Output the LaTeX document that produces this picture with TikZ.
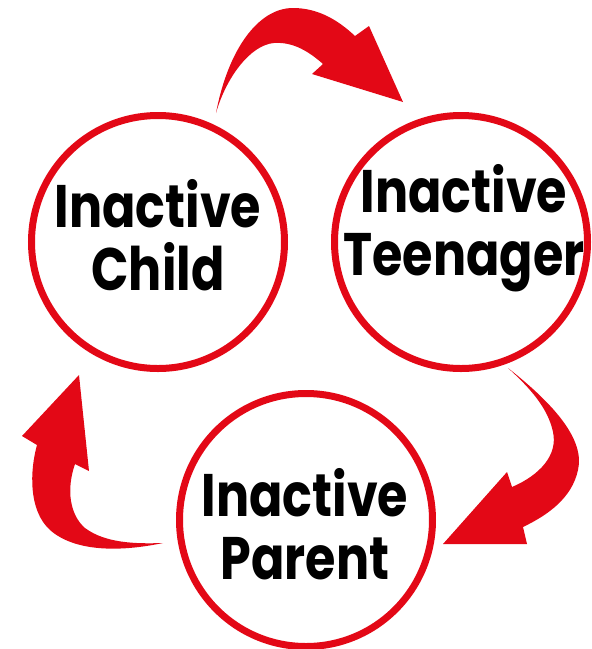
\documentclass[tikz,border=0pt]{standalone}
\usepackage{fontspec}
\newfontfamily\stagefont{Poppins}[FakeStretch=0.82]
\definecolor{cyclered}{RGB}{227,8,22}
\tikzset{
  ring/.style={circle, draw=cyclered, line width=7pt, minimum size=253pt, inner sep=0pt},
  stagetext/.style={align=center, inner sep=0pt, text=black,
    font=\stagefont\bfseries\fontsize{60}{63}\selectfont},
  bendarrow/.style={fill=cyclered, draw=none}
}
\begin{document}
\begin{tikzpicture}[x=1pt,y=-1pt]
    \useasboundingbox (0,0) rectangle (592,649);

    \node[ring] (child) at (158,242) {};
    \node[ring] (teen) at (461,242) {};
    \node[ring] (parent) at (306,520) {};
    \node[stagetext] (childtext) at (158,235) {Inactive\\Child};
    \node[stagetext] (teentext) at (464,228) {Inactive\\Teenager};
    \node[stagetext] (parenttext) at (305,524) {Inactive\\Parent};

    \fill[bendarrow] (216,113) .. controls (228,50) and (258,8) .. (293,8)
        .. controls (318,8) and (338,20) .. (355,36) -- (369,26) -- (403,102)
        -- (312,74) -- (323,64) .. controls (305,48) and (290,42) .. (274,43)
        .. controls (250,45) and (226,78) .. (216,113) -- cycle;
    \fill[bendarrow] (508,368) .. controls (555,405) and (585,440) .. (578,470)
        .. controls (572,498) and (548,515) .. (523,527) -- (527,544) -- (443,544)
        -- (507,472) -- (512,487) .. controls (540,475) and (558,455) .. (553,432)
        .. controls (548,408) and (530,388) .. (508,368) -- cycle;
    \fill[bendarrow] (163,543) .. controls (120,552) and (75,552) .. (50,530)
        .. controls (28,510) and (30,470) .. (37,445) -- (22,436) -- (79,375)
        -- (89,471) -- (75,464) .. controls (66,490) and (70,515) .. (85,528)
        .. controls (105,543) and (135,544) .. (163,543) -- cycle;
\end{tikzpicture}
\end{document}
